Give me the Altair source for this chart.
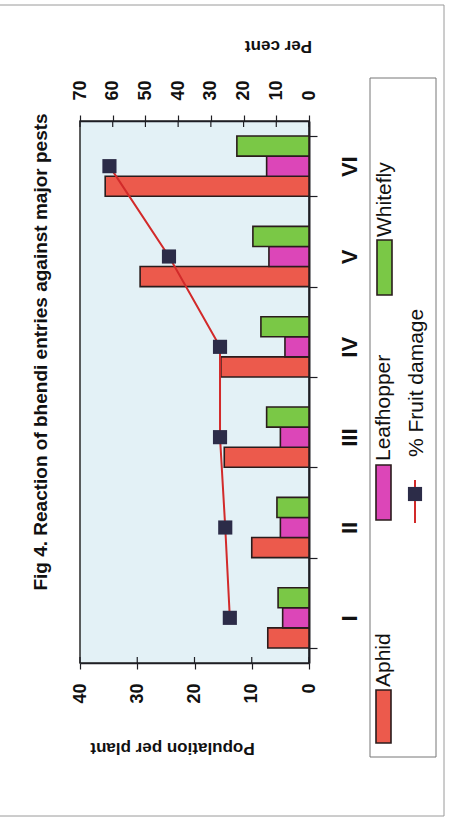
import altair as alt
import pandas as pd

# Bhendi entries and pest counts (population per plant) with % fruit damage
entries = ["I", "II", "III", "IV", "V", "VI"]
aphid = [7.2, 10.0, 14.8, 15.4, 29.5, 35.6]
leafhopper = [4.6, 5.0, 5.0, 4.2, 7.0, 7.4]
whitefly = [5.4, 5.6, 7.4, 8.4, 9.8, 12.6]
fruit_damage = [24.2, 25.6, 27.2, 27.2, 42.8, 61.0]

pests = ["Aphid", "Leafhopper", "Whitefly"]
pest_colors = ["#ec5a4c", "#dc46b8", "#7ac846"]
population_ticks = [0, 10, 20, 30, 40]
percent_ticks = [0, 10, 20, 30, 40, 50, 60, 70]

title_text = "Fig 4. Reaction of bhendi entries against major pests"
damage_label = "% Fruit damage"

counts = pd.DataFrame(
    [
        {"entry": e, "pest": p, "value": v}
        for p, vals in zip(pests, [aphid, leafhopper, whitefly])
        for e, v in zip(entries, vals)
    ]
)
damage = pd.DataFrame({"entry": entries, "damage": fruit_damage})

W, H = 229, 542
FONT = "Liberation Sans"
INK = "#1e1e24"
LINE_RED = "#d22a2a"
MARKER = "#2c2c48"

pop_scale = alt.Scale(domain=[0, 40], reverse=True, nice=False)
pct_scale = alt.Scale(domain=[0, 70], reverse=True, nice=False)

# Rotated layout: entries run along the vertical axis on the right,
# population reads along the bottom, per cent along the top.
y_enc = alt.Y(
    "entry:N",
    sort=entries[::-1],
    scale=alt.Scale(paddingInner=1 / 3, paddingOuter=1 / 6),
    axis=alt.Axis(
        orient="right",
        title=None,
        labelAngle=270,
        labelAlign="center",
        labelBaseline="top",
        labelFontSize=22,
        labelFontWeight="bold",
        labelPadding=22,
        tickBand="extent",
        tickSize=8,
        domainWidth=2,
    ),
)

bars = (
    alt.Chart(counts)
    .mark_bar(stroke="#2a1c1c", strokeWidth=1.6)
    .encode(
        x=alt.X(
            "value:Q",
            scale=pop_scale,
            axis=alt.Axis(
                orient="bottom",
                values=population_ticks,
                title="Population per plant",
                titleAngle=180,
                titleX=92,
                titleY=84,
                titleAlign="center",
                titleBaseline="middle",
                titleFontSize=17,
                labelAngle=270,
                labelAlign="right",
                labelBaseline="middle",
                labelPadding=14,
                tickSize=6,
            ),
        ),
        y=y_enc,
        yOffset=alt.YOffset("pest:N", sort=pests[::-1]),
        color=alt.Color(
            "pest:N",
            scale=alt.Scale(domain=pests, range=pest_colors),
            legend=None,
        ),
    )
)

line = (
    alt.Chart(damage)
    .mark_line(
        color=LINE_RED,
        strokeWidth=2,
        point=alt.OverlayMarkDef(shape="square", filled=True, color=MARKER, size=200, opacity=1),
    )
    .encode(
        x=alt.X(
            "damage:Q",
            scale=pct_scale,
            axis=alt.Axis(
                orient="top",
                values=percent_ticks,
                title="Per cent",
                titleAngle=180,
                titleX=198,
                titleY=-76,
                titleAlign="center",
                titleBaseline="middle",
                titleFontSize=17,
                labelAngle=270,
                labelAlign="left",
                labelBaseline="middle",
                labelPadding=15,
                tickSize=6,
            ),
        ),
        y=y_enc,
    )
)

# Inner halves of the crossing tick marks on both value axes
pop_inner_ticks = (
    alt.Chart(pd.DataFrame({"tick": population_ticks}))
    .mark_rule(color=INK, strokeWidth=1.2)
    .encode(
        x=alt.X("tick:Q", scale=pop_scale, axis=None),
        y=alt.value(H - 6),
        y2=alt.value(H),
    )
)
pct_inner_ticks = (
    alt.Chart(pd.DataFrame({"tick": percent_ticks}))
    .mark_rule(color=INK, strokeWidth=1.2)
    .encode(
        x=alt.X("tick:Q", scale=pct_scale, axis=None),
        y=alt.value(0),
        y2=alt.value(6),
    )
)

one = alt.Data(values=[{}])


def swatch(x0, x1, y0, y1, fill):
    return (
        alt.Chart(one)
        .mark_rect(fill=fill, stroke="#2a1c1c", strokeWidth=1.6)
        .encode(x=alt.value(x0), x2=alt.value(x1), y=alt.value(y0), y2=alt.value(y1))
    )


def label(text, x, y, size=21, weight="normal", align="left", font=FONT):
    return (
        alt.Chart(one)
        .mark_text(
            text=text,
            angle=270,
            align=align,
            baseline="middle",
            font=font,
            fontSize=size,
            fontWeight=weight,
            color="#111",
        )
        .encode(x=alt.value(x), y=alt.value(y))
    )


frame = (
    alt.Chart(one)
    .mark_rect(fill=None, stroke="#9a9a9a", strokeWidth=1)
    .encode(x=alt.value(-84), x2=alt.value(364), y=alt.value(-116), y2=alt.value(695))
)

legend_box = (
    alt.Chart(one)
    .mark_rect(fill="white", stroke="#777", strokeWidth=1)
    .encode(x=alt.value(290), x2=alt.value(356), y=alt.value(-43), y2=alt.value(636))
)

damage_key_line = (
    alt.Chart(one)
    .mark_rule(color=LINE_RED, strokeWidth=2)
    .encode(x=alt.value(335), y=alt.value(359), y2=alt.value(402))
)
damage_key_point = (
    alt.Chart(one)
    .mark_point(shape="square", filled=True, color=MARKER, size=200, opacity=1)
    .encode(x=alt.value(335), y=alt.value(373))
)

title = label(title_text, -39, 231, size=19, weight="bold", align="center",
              font="Liberation Sans Narrow, Arial Narrow, Liberation Sans")

chart = (
    alt.layer(
        frame,
        legend_box,
        bars,
        pop_inner_ticks,
        pct_inner_ticks,
        line,
        swatch(296, 311, 569, 622, pest_colors[0]),
        label(pests[0], 304, 566),
        swatch(296, 311, 344, 399, pest_colors[1]),
        label(pests[1], 304, 340),
        swatch(297, 312, 119, 174, pest_colors[2]),
        label(pests[2], 305, 116),
        damage_key_line,
        damage_key_point,
        label(damage_label, 337, 336),
        title,
    )
    .resolve_scale(x="independent")
    .properties(
        width=W,
        height=H,
        padding={"left": 80, "top": 121, "right": 140, "bottom": 162},
        autosize=alt.AutoSizeParams(type="none"),
        background="white",
    )
    .configure_view(fill="#e3f1f6", stroke="#2a2a2a", strokeWidth=1.5)
    .configure_axis(
        labelFont=FONT,
        labelFontSize=18,
        labelFontWeight="bold",
        labelColor="#111",
        titleFont=FONT,
        titleFontWeight="bold",
        titleColor="#111",
        domainColor=INK,
        domainWidth=1.5,
        tickColor=INK,
        tickWidth=1.2,
        grid=False,
    )
)

chart.save("out.html", embed_options={"renderer": "svg", "actions": False})
